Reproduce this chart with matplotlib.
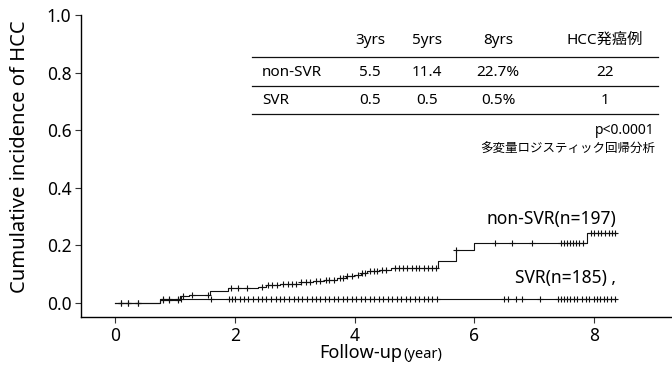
import matplotlib
matplotlib.use('Agg')
import matplotlib.pyplot as plt
import numpy as np

plt.rcParams['font.family'] = ['Noto Sans', 'Noto Sans CJK JP', 'DejaVu Sans']

# Kaplan-Meier style cumulative incidence (step times / values)
nonsvr_t = [0, 0.75, 1.09, 1.23, 1.58, 1.89, 2.39, 2.52, 2.76, 3.10, 3.31, 3.48,
            3.71, 3.85, 3.99, 4.10, 4.21, 4.40, 4.60, 5.40, 5.69, 6.00, 7.88]
nonsvr_p = [0, 0.010, 0.022, 0.028, 0.040, 0.050, 0.056, 0.062, 0.066, 0.070, 0.074,
            0.079, 0.086, 0.091, 0.097, 0.103, 0.109, 0.114, 0.120, 0.145, 0.184,
            0.208, 0.243]
nonsvr_end = 8.37
svr_t = [0, 0.75]
svr_p = [0, 0.013]
svr_end = 8.37

# censoring marks
nonsvr_cens = [0.10, 0.22, 0.38, 0.80, 0.90, 1.05, 1.13, 1.28, 1.55, 1.93, 2.05, 2.20,
               2.45, 2.55, 2.62, 2.70, 2.80, 2.88, 2.95, 3.02, 3.10, 3.18, 3.25, 3.35,
               3.42, 3.52, 3.58, 3.66, 3.75, 3.80, 3.88, 3.95, 4.05, 4.12, 4.18, 4.25,
               4.32, 4.38, 4.45, 4.52, 4.68, 4.74, 4.80, 4.88, 4.95, 5.02, 5.08, 5.15,
               5.22, 5.30, 5.36, 5.70, 6.35, 6.63, 6.96, 7.45, 7.50, 7.55, 7.60, 7.65,
               7.70, 7.75, 7.82, 7.95, 8.00, 8.06, 8.12, 8.18, 8.24, 8.30, 8.35]
svr_cens = [0.10, 0.22, 0.38, 0.80, 0.90, 1.05, 1.10, 1.60, 1.90, 1.95, 2.00, 2.08,
            2.15, 2.22, 2.30, 2.38, 2.45, 2.52, 2.60, 2.68, 2.75, 2.82, 2.90, 2.98,
            3.05, 3.12, 3.20, 3.28, 3.35, 3.42, 3.50, 3.58, 3.65, 3.72, 3.80, 3.88,
            3.95, 4.02, 4.10, 4.18, 4.25, 4.32, 4.40, 4.48, 4.55, 4.62, 4.70, 4.78,
            4.85, 4.92, 5.00, 5.08, 5.15, 5.22, 5.30, 5.38, 6.50, 6.56, 6.70, 6.80,
            7.10, 7.40, 7.45, 7.50, 7.55, 7.60, 7.66, 7.72, 7.80, 7.86, 7.92, 8.00,
            8.05, 8.10, 8.16, 8.22, 8.28, 8.34]

tbl_cols = ['3yrs', '5yrs', '8yrs', 'HCC発癌例']
tbl_rows = ['non-SVR', 'SVR']
tbl_vals = [['5.5', '11.4', '22.7%', '22'],
            ['0.5', '0.5', '0.5%', '1']]

W, H = 672, 365
fig = plt.figure(figsize=(W / 100, H / 100), dpi=100)
ax = fig.add_axes([81 / W, (H - 317) / H, 1 - 81 / W, (317 - 15) / H])


def km(ax, t, p, end, cens):
    tt = list(t) + [end]
    pp = list(p) + [p[-1]]
    ax.step(tt, pp, where='post', color='#111111', lw=0.8)
    idx = np.searchsorted(t, cens, side='right') - 1
    cy = np.asarray(p)[idx]
    ax.plot(cens, cy, ls='none', marker='+', color='#111111', ms=5, mew=0.8)


km(ax, nonsvr_t, nonsvr_p, nonsvr_end, nonsvr_cens)
km(ax, svr_t, svr_p, svr_end, svr_cens)

ax.set_xlim(-0.57, 9.3)
ax.set_ylim(-0.05, 1.0)
ax.set_xticks([0, 2, 4, 6, 8])
ax.set_yticks([0, 0.2, 0.4, 0.6, 0.8, 1.0])
ax.set_yticklabels(['0.0', '0.2', '0.4', '0.6', '0.8', '1.0'])
ax.spines['top'].set_visible(False)
ax.spines['right'].set_visible(False)
ax.tick_params(labelsize=12.5, length=4, width=0.8, color='#333333', pad=3)
for s in ax.spines.values():
    s.set_linewidth(1.0)

ax.text(8.37, 0.29, 'non-SVR(n=197)', ha='right', va='center', fontsize=12.5)
ax.text(8.37, 0.085, 'SVR(n=185) ,', ha='right', va='center', fontsize=12.5)

# axis labels
fig.text(20 / W, 1 - 157 / H, 'Cumulative incidence of HCC', rotation=90,
         ha='center', va='center', fontsize=14.5)
fig.text(402 / W, 1 - 353 / H, 'Follow-up', ha='right', va='center', fontsize=13)
fig.text(403 / W, 1 - 354 / H, '(year)', ha='left', va='center', fontsize=10.5)

# summary table
x0, x1 = 252 / W, 658 / W
for yl in [57, 86, 114]:
    fig.add_artist(plt.Line2D([x0, x1], [1 - yl / H, 1 - yl / H], color='#111111', lw=0.9))
col_x = [370, 427, 498, 605]
for cx, c in zip(col_x, tbl_cols):
    fig.text(cx / W, 1 - 40 / H, c, ha='center', va='center', fontsize=11)
for ry, rname, vals in zip([72, 100], tbl_rows, tbl_vals):
    fig.text(262 / W, 1 - ry / H, rname, ha='left', va='center', fontsize=11)
    for cx, v in zip(col_x, vals):
        fig.text(cx / W, 1 - ry / H, v, ha='center', va='center', fontsize=11)

fig.text(655 / W, 1 - 131 / H, 'p<0.0001', ha='right', va='center', fontsize=10)
fig.text(655 / W, 1 - 149 / H, '多変量ロジスティック回帰分析', ha='right', va='center',
         fontsize=9)

fig.savefig('out.png', dpi=100)
